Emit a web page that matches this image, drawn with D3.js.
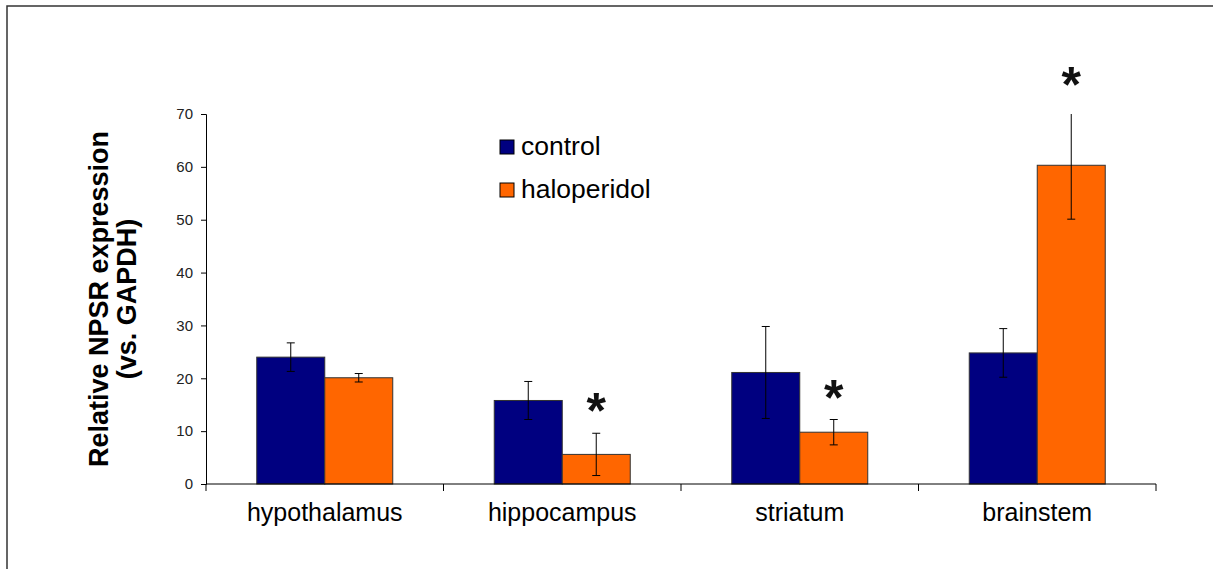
<!DOCTYPE html>
<html>
<head>
<meta charset="utf-8">
<script src="https://cdn.jsdelivr.net/npm/d3@7"></script>
<style>
  body { margin: 0; background: #fff; }
  svg { font-family: Arial, "Liberation Sans", sans-serif; }
</style>
</head>
<body>
<div id="chart"></div>
<script>
const regions = ['hypothalamus', 'hippocampus', 'striatum', 'brainstem'];
const series = ['control', 'haloperidol'];
const colors = ['#000080', '#FF6600'];
const controlValues = [24.0, 15.8, 21.1, 24.8];
const controlErrors = [2.7, 3.6, 8.7, 4.6];
const haloValues = [20.1, 5.6, 9.8, 60.3];
const haloErrors = [0.8, 4.0, 2.4, 10.2];
const significant = [false, true, true, true];
const yTicks = [0, 10, 20, 30, 40, 50, 60, 70];

const width = 1213, height = 569;
const plotLeft = 206, plotRight = 1156, plotTop = 114, plotBottom = 484;

const svg = d3.select('#chart')
              .append('svg')
              .attr('width', width)
              .attr('height', height);

// frame (only top and left edges show in the picture)
svg.append('rect')
   .attr('x', 7).attr('y', 6)
   .attr('width', width + 20).attr('height', height + 20)
   .attr('fill', 'none')
   .attr('stroke', '#333')
   .attr('stroke-width', 1.5);

const x0 = d3.scaleBand()
             .domain(regions)
             .range([plotLeft, plotRight])
             .paddingInner(0.4274)
             .paddingOuter(0.2137);

const x1 = d3.scaleBand()
             .domain(series)
             .range([0, x0.bandwidth()]);

const yScale = d3.scaleLinear()
                 .domain([0, 70])
                 .range([plotBottom, plotTop]);

svg.append('defs').append('clipPath')
   .attr('id', 'plot')
   .append('rect')
   .attr('x', plotLeft).attr('y', plotTop)
   .attr('width', plotRight - plotLeft).attr('height', plotBottom - plotTop);

const rows = regions.map((r, i) => ({
  region: r,
  bars: [
    {key: 'control', value: controlValues[i], err: controlErrors[i]},
    {key: 'haloperidol', value: haloValues[i], err: haloErrors[i]}
  ]
}));

const groups = svg.selectAll('g.group')
                  .data(rows)
                  .enter()
                  .append('g')
                  .attr('class', 'group')
                  .attr('transform', d => `translate(${x0(d.region)}, 0)`);

groups.selectAll('rect')
      .data(d => d.bars)
      .enter()
      .append('rect')
      .attr('x', d => x1(d.key))
      .attr('y', d => yScale(d.value))
      .attr('width', x1.bandwidth())
      .attr('height', d => plotBottom - yScale(d.value))
      .attr('fill', (d, i) => colors[i])
      .attr('stroke', '#333')
      .attr('stroke-width', 1);

// error bars, clipped to the plot area like the original
const errs = svg.append('g').attr('clip-path', 'url(#plot)');
rows.forEach(row => {
  row.bars.forEach(b => {
    const cx = x0(row.region) + x1(b.key) + x1.bandwidth() / 2;
    const y1 = yScale(b.value + b.err), y2 = yScale(b.value - b.err);
    errs.append('line')
        .attr('x1', cx).attr('x2', cx)
        .attr('y1', y1).attr('y2', y2)
        .attr('stroke', '#000').attr('stroke-width', 1);
    [y1, y2].forEach(yy => {
      errs.append('line')
          .attr('x1', cx - 4).attr('x2', cx + 4)
          .attr('y1', yy).attr('y2', yy)
          .attr('stroke', '#000').attr('stroke-width', 1);
    });
  });
});

// significance stars above the haloperidol bars
rows.forEach((row, i) => {
  if (!significant[i]) return;
  const b = row.bars[1];
  const cx = x0(row.region) + x1(b.key) + x1.bandwidth() / 2;
  svg.append('text')
     .attr('x', cx)
     .attr('y', yScale(b.value + b.err) - 5 - (i === 3 ? 4 : 0))
     .attr('text-anchor', 'middle')
     .attr('font-size', 50)
     .attr('font-weight', 'bold')
     .attr('fill', '#111')
     .text('*');
});

// y axis
const yAxis = d3.axisLeft(yScale).tickValues(yTicks).tickSize(5).tickPadding(8);
const gy = svg.append('g')
              .attr('transform', `translate(${plotLeft}, 0)`)
              .call(yAxis);
gy.select('.domain').attr('stroke', '#000');
gy.selectAll('.tick line').attr('stroke', '#000');
gy.selectAll('.tick text')
  .attr('font-size', 15)
  .attr('font-family', 'Arial, "Liberation Sans", sans-serif')
  .attr('fill', '#222');

// x axis with ticks between categories
svg.append('line')
   .attr('x1', plotLeft).attr('x2', plotRight)
   .attr('y1', plotBottom).attr('y2', plotBottom)
   .attr('stroke', '#000');

const step = x0.step();
svg.selectAll('line.xtick')
   .data(d3.range(regions.length + 1))
   .enter()
   .append('line')
   .attr('class', 'xtick')
   .attr('x1', d => plotLeft + d * step).attr('x2', d => plotLeft + d * step)
   .attr('y1', plotBottom).attr('y2', plotBottom + 7)
   .attr('stroke', '#000');

svg.selectAll('text.cat')
   .data(regions)
   .enter()
   .append('text')
   .attr('class', 'cat')
   .attr('x', d => x0(d) + x0.bandwidth() / 2)
   .attr('y', 521)
   .attr('text-anchor', 'middle')
   .attr('font-size', 25)
   .attr('fill', '#000')
   .text(d => d);

// y label
const yl = svg.append('text')
              .attr('transform', 'translate(108, 299) rotate(-90)')
              .attr('text-anchor', 'middle')
              .attr('font-size', 27)
              .attr('font-weight', 'bold')
              .attr('fill', '#000');
yl.append('tspan').attr('x', 0).attr('y', 0).text('Relative NPSR expression');
yl.append('tspan').attr('x', 0).attr('y', 28).text('(vs. GAPDH)');

// legend
const legend = svg.selectAll('g.legend')
                  .data(series)
                  .enter()
                  .append('g')
                  .attr('class', 'legend')
                  .attr('transform', (d, i) => `translate(500, ${140 + i * 43})`);

legend.append('rect')
      .attr('width', 14).attr('height', 14)
      .attr('fill', (d, i) => colors[i])
      .attr('stroke', '#000');

legend.append('text')
      .attr('x', 21)
      .attr('y', 15)
      .attr('font-size', 26.5)
      .attr('fill', '#000')
      .text(d => d);
</script>
</body>
</html>
